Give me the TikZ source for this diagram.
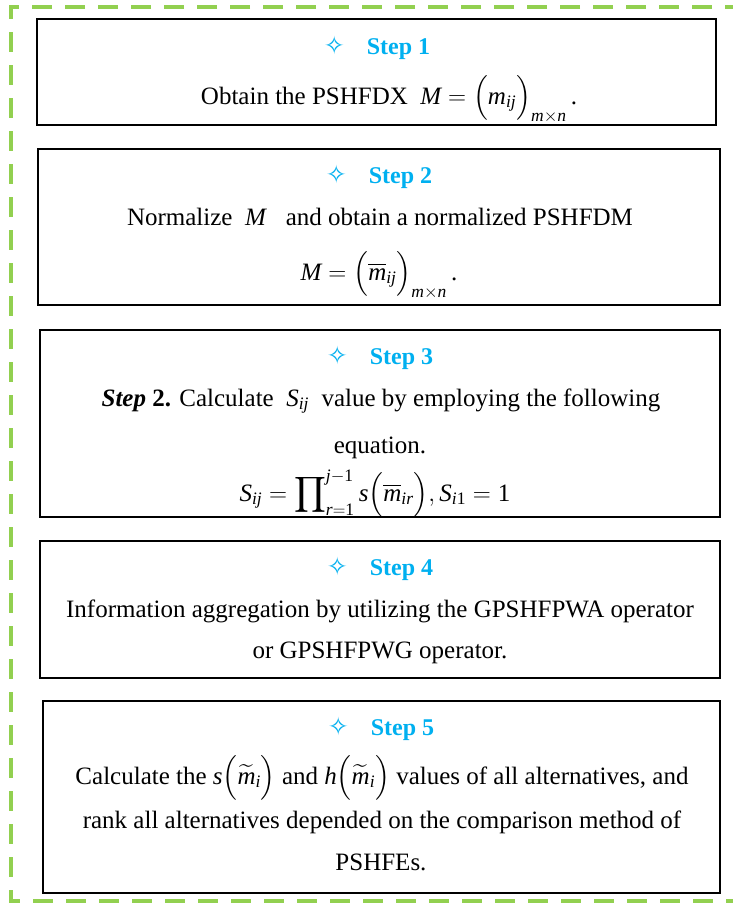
\documentclass[tikz,border=0pt]{standalone}
\usepackage{fix-cm}
\usepackage{amsmath}
\usepackage{fontspec}
\setmainfont{Liberation Serif}
\newfontfamily\symfont{DejaVu Sans}
\definecolor{stepblue}{HTML}{00B0F0}
\definecolor{dashgreen}{HTML}{92D050}
\newcommand{\vi}[1]{\textit{#1}}
\newcommand{\vr}[1]{\textrm{#1}}
\tikzset{
  stepbox/.style={draw=black, line width=1.6pt, inner sep=0pt},
  head/.style={anchor=base, text=stepblue, font=\fontsize{24}{28}\selectfont\bfseries, inner sep=0pt},
  body/.style={anchor=base, font=\fontsize{25}{30}\selectfont, inner sep=0pt},
  frame/.style={dashgreen, line width=4.5pt, dash pattern=on 20pt off 13pt}
}
\newcommand{\stephead}[1]{{\symfont\fontsize{25}{28}\selectfont\mdseries ✧}\hspace{22pt}Step #1}
\begin{document}
\begin{tikzpicture}[x=1pt,y=-1pt]
\useasboundingbox (0,0) rectangle (733,905);
\clip (0,0) rectangle (733,905);
\fill[white] (0,0) rectangle (733,905);
% dashed green frame
\draw[frame] (745,7) -- (11,7) -- (11,901) -- (745,901);

% boxes
\draw[stepbox] (37,19) rectangle (716,125);
\draw[stepbox] (38,149) rectangle (720,305);
\draw[stepbox] (40,330) rectangle (720,517);
\draw[stepbox] (40,541) rectangle (720,678);
\draw[stepbox] (43,701) rectangle (720,893);

% step 1
\node[head] (h1) at (377,54) {\stephead{1}};
\node[body] (t1) at (389,104) {Obtain the PSHFDX\ \ $\vi{M}=\Bigl(\vi{m}_{\vi{ij}}\Bigr)_{\vi{m}\times\vi{n}}$\,.};

% step 2
\node[head] (h2) at (379,183) {\stephead{2}};
\node[body] (t2a) at (380,225) {Normalize\ \ \vi{M}\ \ \ and obtain a normalized PSHFDM};
\node[body] (t2b) at (379,280) {$\vi{M}=\Bigl(\overline{\vi{m}}_{\vi{ij}}\Bigr)_{\vi{m}\times\vi{n}}$\,.};

% step 3
\node[head] (h3) at (380,364) {\stephead{3}};
\node[body] (t3a) at (381,406) {\textbf{\textit{Step}} \textbf{2.} Calculate\ \ $\vi{S}_{\vi{ij}}$\ \ value by employing the following};
\node[body] (t3b) at (380,453) {equation.};
\node[body] (t3c) at (375,501) {$\vi{S}_{\vi{ij}}=\displaystyle\prod\nolimits_{\vi{r}=\vr{1}}^{\vi{j}-\vr{1}}\vi{s}\Bigl(\overline{\vi{m}}_{\vi{ir}}\Bigr),\vi{S}_{\vi{i}\vr{1}}=\vr{1}$};

% step 4
\node[head] (h4) at (380,575) {\stephead{4}};
\node[body] (t4a) at (380,617) {Information aggregation by utilizing the GPSHFPWA operator};
\node[body] (t4b) at (380,658) {or GPSHFPWG operator.};

% step 5
\node[head] (h5) at (381,735) {\stephead{5}};
\node[body] (t5a) at (382,784) {Calculate the\ $\vi{s}\Bigl(\widetilde{\vi{m}}_{\vi{i}}\Bigr)$\ and\ $\vi{h}\Bigl(\widetilde{\vi{m}}_{\vi{i}}\Bigr)$\ values of all alternatives, and};
\node[body] (t5b) at (382,828) {rank all alternatives depended on the comparison method of};
\node[body] (t5c) at (381,870) {PSHFEs.};
\end{tikzpicture}
\end{document}
